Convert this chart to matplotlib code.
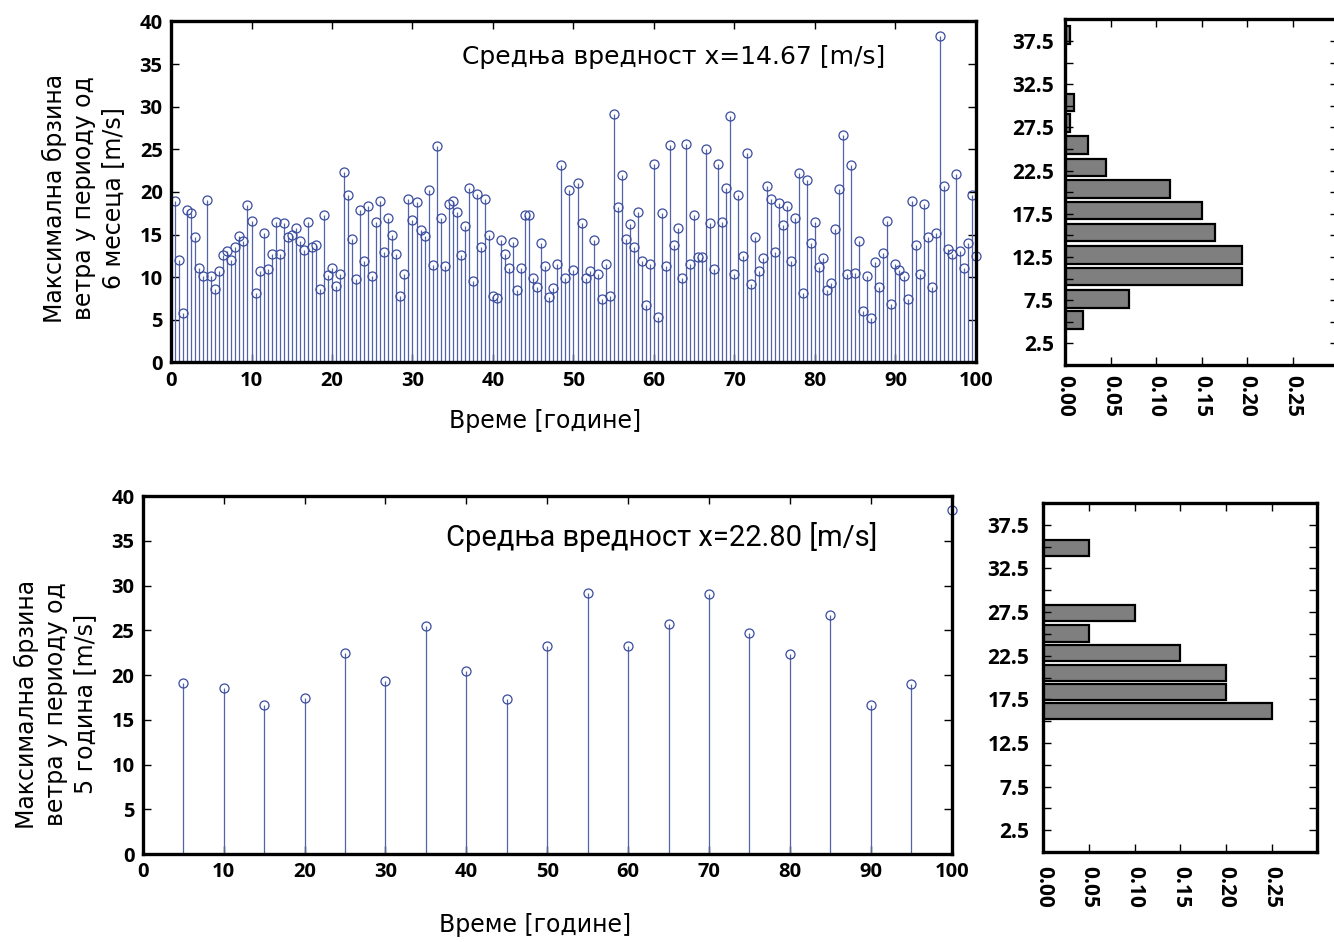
import numpy as np
import matplotlib
matplotlib.use("Agg")
import matplotlib.pyplot as plt

# максимуми за сваких 6 месеци (200 вредности, t = 0.5 ... 100 година)
max_6m = [
    18.9, 12.0, 5.8, 17.9, 17.5, 14.7, 11.1, 10.2, 19.1, 10.2,
    8.6, 10.7, 12.6, 13.1, 12.0, 13.6, 14.8, 14.3, 18.5, 16.6,
    8.1, 10.7, 15.2, 11.0, 12.7, 16.5, 12.7, 16.4, 14.7, 15.0,
    15.8, 14.3, 13.2, 16.5, 13.6, 13.8, 8.6, 17.3, 10.3, 11.1,
    9.0, 10.4, 22.4, 19.6, 14.5, 9.8, 17.9, 11.9, 18.4, 10.1,
    16.5, 19.0, 13.0, 17.0, 15.0, 12.7, 7.8, 10.4, 19.2, 16.7,
    18.8, 15.5, 14.8, 20.2, 11.4, 25.4, 16.9, 11.3, 18.6, 18.9,
    17.7, 12.6, 16.0, 20.5, 9.5, 19.8, 13.5, 19.2, 15.0, 7.8,
    7.6, 14.4, 12.7, 11.1, 14.1, 8.5, 11.1, 17.3, 17.3, 9.9,
    8.8, 14.0, 11.3, 7.7, 8.7, 11.5, 23.2, 9.9, 20.2, 10.8,
    21.0, 16.4, 9.9, 10.7, 14.4, 10.4, 7.4, 11.6, 7.8, 29.2,
    18.2, 22.0, 14.5, 16.3, 13.6, 17.6, 11.9, 6.8, 11.5, 23.3,
    5.3, 17.5, 11.3, 25.5, 13.8, 15.8, 9.9, 25.6, 11.5, 17.3,
    12.4, 12.4, 25.1, 16.4, 11.0, 23.3, 16.5, 20.5, 28.9, 10.4,
    19.6, 12.5, 24.6, 9.2, 14.7, 10.7, 12.3, 20.7, 19.2, 13.0,
    18.7, 16.1, 18.3, 11.9, 17.0, 22.2, 8.1, 21.4, 14.0, 16.5,
    11.2, 12.2, 8.5, 9.3, 15.6, 20.4, 26.7, 10.4, 23.2, 10.5,
    14.3, 6.0, 10.2, 5.2, 11.8, 8.8, 12.8, 16.6, 6.9, 11.5,
    10.8, 10.1, 7.5, 18.9, 13.8, 10.4, 18.6, 14.7, 8.8, 15.2,
    38.3, 20.7, 13.3, 12.7, 22.1, 13.1, 11.1, 14.0, 19.7, 12.5,
]
t_6m = np.arange(1, len(max_6m) + 1) * 0.5

# максимуми за сваких 5 година
t_5y = [5, 10, 15, 20, 25, 30, 35, 40, 45, 50, 55, 60, 65, 70, 75, 80, 85, 90, 95, 100]
max_5y = [19.1, 18.6, 16.6, 17.4, 22.5, 19.3, 25.5, 20.5, 17.3, 23.2,
          29.2, 23.3, 25.7, 29.0, 24.7, 22.3, 26.7, 16.6, 19.0, 38.4]

# хистограми (центри класа и релативне фреквенције)
hist1_centers = [5.2, 7.65, 10.25, 12.75, 15.35, 17.9, 20.35, 22.85, 25.45, 28.05, 30.4, 38.2]
hist1_freq = [0.02, 0.07, 0.195, 0.195, 0.165, 0.15, 0.115, 0.045, 0.025, 0.005, 0.01, 0.005]
hist2_centers = [16.15, 18.3, 20.55, 22.8, 25.05, 27.35, 34.8]
hist2_freq = [0.25, 0.20, 0.20, 0.15, 0.05, 0.10, 0.05]

mean_6m = "Средња вредност x=14.67 [m/s]"
mean_5y = "Средња вредност x=22.80 [m/s]"
xlabel = "Време [године]"
ylabel_6m = "Максимална брзина\nветра у периоду од\n6 месеца [m/s]"
ylabel_5y = "Максимална брзина\nветра у периоду од\n5 година [m/s]"

stem_col = "#5563a8"
mark_col = "#3a4c9e"
tick_family = ["Open Sans", "DejaVu Sans"]

fig = plt.figure(figsize=(13.34, 9.42), dpi=100)


def style_axes(ax, pad_x, pad_y):
    for s in ax.spines.values():
        s.set_linewidth(2.4)
        s.set_color("black")
    ax.tick_params(direction="in", length=6, width=1.0, top=True, right=True,
                   which="both")
    ax.tick_params(axis="x", pad=pad_x)
    ax.tick_params(axis="y", pad=pad_y)


def stem_panel(rect, t, vals, text, text_xy, text_font, ylab, ylab_xy, xlab_xy):
    ax = fig.add_axes(rect)
    ml, sl, bl = ax.stem(t, vals, basefmt=" ")
    plt.setp(sl, color=stem_col, linewidth=0.9)
    plt.setp(ml, marker="o", markersize=6.5, markerfacecolor="none",
             markeredgecolor=mark_col, markeredgewidth=0.9, clip_on=False)
    ax.set_xlim(0, 100)
    ax.set_ylim(0, 40)
    ax.set_xticks(np.arange(0, 101, 10))
    ax.set_yticks(np.arange(0, 41, 5))
    for lab in ax.get_xticklabels() + ax.get_yticklabels():
        lab.set_fontfamily(tick_family)
        lab.set_fontweight("bold")
        lab.set_fontsize(14.5)
    style_axes(ax, 6, 6)
    ax.text(text_xy[0], text_xy[1], text, ha="left", va="center", **text_font)
    ax.set_ylabel(ylab, fontsize=17, family="DejaVu Sans", linespacing=1.25,
                  ha="center", va="center")
    ax.yaxis.set_label_coords(*ylab_xy)
    ax.set_xlabel(xlabel, fontsize=17, family="DejaVu Sans", va="center")
    ax.xaxis.set_label_coords(*xlab_xy)
    return ax


def hist_panel(rect, centers, freq, height, ypad, xpad):
    ax = fig.add_axes(rect)
    ax.barh(centers, freq, height=height, color="#7f7f7f", edgecolor="black",
            linewidth=1.6)
    ax.set_ylim(0, 40)
    ax.set_xlim(0, 0.30)
    ax.set_yticks(np.arange(2.5, 40, 5))
    ax.set_yticks(np.arange(5, 40, 5), minor=True)
    ax.set_xticks(np.arange(0, 0.26, 0.05))
    ax.set_yticklabels(["%.1f" % v for v in np.arange(2.5, 40, 5)],
                       family=tick_family, weight="bold", size=15)
    ax.set_xticklabels(["%.2f" % v for v in np.arange(0, 0.26, 0.05)],
                       rotation=-90, family=tick_family, weight="bold", size=15)
    style_axes(ax, xpad, ypad)
    ax.tick_params(which="minor", length=6, width=1.0)
    return ax


stem_panel([0.1282, 0.6152, 0.6034, 0.3620], t_6m, max_6m, mean_6m, (36.1, 35.8),
           dict(fontsize=18, family="DejaVu Sans"), ylabel_6m, (-0.109, 0.482),
           (0.465, -0.172))
stem_panel([0.1070, 0.0934, 0.6064, 0.3800], t_5y, max_5y, mean_5y, (37.5, 35.4),
           dict(fontsize=21, family=["Liberation Sans Narrow", "Roboto", "DejaVu Sans"]),
           ylabel_5y, (-0.108, 0.419), (0.485, -0.198))

hist_panel([0.7984, 0.6125, 0.2046, 0.3668], hist1_centers, hist1_freq, 2.05, 8, 7)
hist_panel([0.7821, 0.0955, 0.2054, 0.3705], hist2_centers, hist2_freq, 1.85, 10, 10)

fig.savefig("out.png", dpi=100)
